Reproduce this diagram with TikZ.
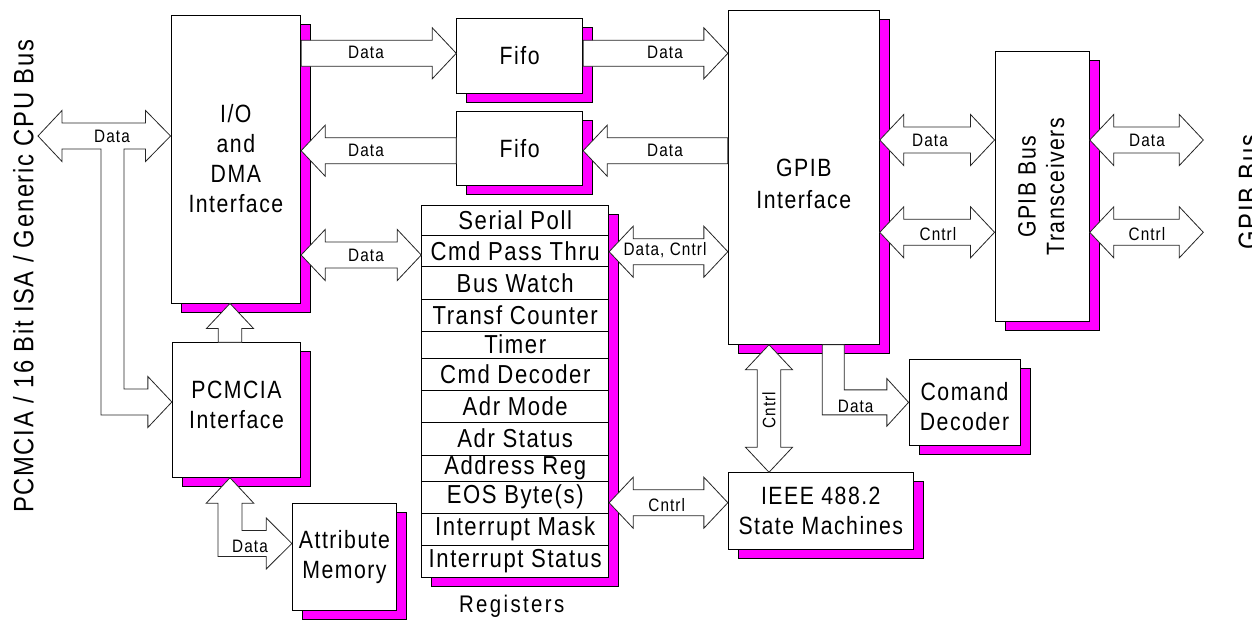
\documentclass[tikz,border=0pt]{standalone}
\usepackage{fontspec}
\setmainfont{Liberation Sans}[FakeStretch=0.85,LetterSpace=6]
\usetikzlibrary{shadows,calc}
\definecolor{shmag}{RGB}{255,0,255}
\newcommand\HL{24}
\newcommand\HW{25.5}
\newcommand\SW{13}
\newcommand\VL{25}
\newcommand\VW{23.5}
\newcommand\VS{11.8}
% text block shifted vertically inside its box, keeping the reported size
\newcommand\shtxt[2]{\raisebox{#1}[\height][\depth]{\begin{tabular}{@{}c@{}}#2\end{tabular}}}
% horizontal double-headed block arrow from #1 (left tip) to #2 (right tip)
\newcommand\hdbl[2]{\draw[fat] let \p1=(#1),\p2=(#2) in
  (\p1) -- (\x1+\HL,\y1+\HW) -- (\x1+\HL,\y1+\SW) -- (\x2-\HL,\y1+\SW) -- (\x2-\HL,\y1+\HW)
  -- (\x2,\y1) -- (\x2-\HL,\y1-\HW) -- (\x2-\HL,\y1-\SW) -- (\x1+\HL,\y1-\SW) -- (\x1+\HL,\y1-\HW) -- cycle;}
% head at the right end
\newcommand\hright[2]{\draw[fat] let \p1=(#1),\p2=(#2) in
  (\x1,\y1+\SW) -- (\x2-\HL,\y1+\SW) -- (\x2-\HL,\y1+\HW) -- (\x2,\y1)
  -- (\x2-\HL,\y1-\HW) -- (\x2-\HL,\y1-\SW) -- (\x1,\y1-\SW) -- cycle;}
% head at the left end
\newcommand\hleft[2]{\draw[fat] let \p1=(#1),\p2=(#2) in
  (\p1) -- (\x1+\HL,\y1+\HW) -- (\x1+\HL,\y1+\SW) -- (\x2,\y1+\SW)
  -- (\x2,\y1-\SW) -- (\x1+\HL,\y1-\SW) -- (\x1+\HL,\y1-\HW) -- cycle;}
% vertical double-headed, #1 top tip, #2 bottom tip
\newcommand\vdbl[2]{\draw[fat] let \p1=(#1),\p2=(#2) in
  (\p1) -- (\x1+\VW,\y1-\VL) -- (\x1+\VS,\y1-\VL) -- (\x1+\VS,\y2+\VL) -- (\x1+\VW,\y2+\VL)
  -- (\x1,\y2) -- (\x1-\VW,\y2+\VL) -- (\x1-\VS,\y2+\VL) -- (\x1-\VS,\y1-\VL) -- (\x1-\VW,\y1-\VL) -- cycle;}
% vertical, head at the top (#1), tail at #2
\newcommand\vup[2]{\draw[fat] let \p1=(#1),\p2=(#2) in
  (\p1) -- (\x1+\VW,\y1-\VL) -- (\x1+\VS,\y1-\VL) -- (\x1+\VS,\y2)
  -- (\x1-\VS,\y2) -- (\x1-\VS,\y1-\VL) -- (\x1-\VW,\y1-\VL) -- cycle;}
\begin{document}
\begin{tikzpicture}[x=1pt,y=-1pt,
  box/.style={draw=black,fill=white,line width=0.9pt,inner sep=0pt,align=center,
    font=\fontsize{25}{30}\selectfont,
    drop shadow={shadow xshift=10pt,shadow yshift=-9pt,fill=shmag,draw=black,line width=0.5pt,opacity=1}},
  fat/.style={draw=black!85,line width=0.8pt,fill=white,line join=miter},
  lbl/.style={inner sep=0pt,font=\fontsize{18}{20}\selectfont},
  regtxt/.style={inner sep=0pt,font=\fontsize{26}{28}\selectfont},
  buslbl/.style={inner sep=0pt,font=\fontsize{28}{30}\selectfont}]
\path[fill=white] (0,0) rectangle (1252,621);
\useasboundingbox (0,0) rectangle (1252,621);

% ---------- boxes ----------
\node[box,minimum width=129.7pt,minimum height=288pt] (io) at (235.85,159) {I/O\\and\\DMA\\Interface};
\node[box,minimum width=128.4pt,minimum height=134.6pt] (pcmcia) at (236.5,410) {\shtxt{3pt}{PCMCIA\\Interface}};
\node[box,minimum width=104.4pt,minimum height=107.4pt] (attr) at (344.5,557) {Attribute\\Memory};
\node[box,minimum width=126pt,minimum height=75pt] (fifo1) at (519.7,55.8) {Fifo};
\node[box,minimum width=126pt,minimum height=73.3pt] (fifo2) at (519.7,148.35) {Fifo};
\node[box,minimum width=187pt,minimum height=371.6pt] (regs) at (515.2,391.5) {};
\node[box,minimum width=151pt,minimum height=334.3pt,font=\fontsize{25}{32.5}\selectfont] (gpib) at (803.8,177.15) {\shtxt{-9pt}{GPIB\\Interface}};
\node[box,minimum width=94.3pt,minimum height=270pt] (trans) at (1042.15,186.7)
  {\rotatebox{90}{\fontsize{25}{28.4}\selectfont\raisebox{-2pt}[\height][\depth]{\begin{tabular}{@{}c@{}}GPIB Bus\\Transceivers\end{tabular}}}};
\node[box,minimum width=111pt,minimum height=86.7pt] (cmd) at (964.5,402.35) {\shtxt{-7pt}{Comand\\Decoder}};
\node[box,minimum width=185pt,minimum height=76.6pt] (ieee) at (820.8,511) {IEEE 488.2\\State Machines};

% ---------- register rows ----------
\foreach \ya/\yb/\rtxt [count=\i] in {205.7/235/Serial Poll,235/266.7/Cmd Pass Thru,266.7/299/Bus Watch,
  299/331/Transf Counter,331/358.3/Timer,358.3/390/Cmd Decoder,390/422.3/Adr Mode,422.3/455/Adr Status,
  455/481/Address Reg,481/513.3/EOS Byte(s),513.3/545/Interrupt Mask,545/577.3/Interrupt Status}{
  \node[regtxt] (r\i) at (515.2,{(\ya+\yb)/2}) {\rtxt};
}
\foreach \yb in {235,266.7,299,331,358.3,390,422.3,455,481,513.3,545}{
  \draw[line width=0.9pt] (regs.west |- 0,\yb) -- (regs.east |- 0,\yb);
}
\node[inner sep=0pt,font=\fontsize{24}{26}\selectfont\addfontfeature{LetterSpace=10}] (reglbl) at (511.7,606.7) {Registers};

% ---------- block arrows ----------
\coordinate (busL) at (38,136);
\draw[fat] let \p1=(busL), \p2=(io.west |- busL), \p3=(pcmcia.west |- 0,402) in
  (\p1) -- (\x1+24,\y1+25.5) -- (\x1+24,\y1+13) -- (\x2-25,\y1+13) -- (\x2-25,\y1+25.5) -- (\p2)
  -- (\x2-25,\y1-25.5) -- (\x2-25,\y1-13)
  -- (\x1+86,\y1-13) -- (\x1+86,\y3+13) -- (\x3-24,\y3+13) -- (\x3-24,\y3+25.5) -- (\p3)
  -- (\x3-24,\y3-25.5) -- (\x3-24,\y3-13) -- (\x1+63,\y3-13) -- (\x1+63,\y1-13)
  -- (\x1+24,\y1-13) -- (\x1+24,\y1-25.5) -- cycle;

\coordinate (ac) at (230,0);
\vup{ac |- io.south}{ac |- pcmcia.north}
\draw[fat] let \p1=(ac |- pcmcia.south), \p2=(attr.west |- 0,543.5) in
  (\p1) -- (\x1+23.8,\y1-25.5) -- (\x1+12,\y1-25.5) -- (\x1+12,\y2+13) -- (\x2-25.6,\y2+13)
  -- (\x2-25.6,\y2+25.5) -- (\p2) -- (\x2-25.6,\y2-25.5) -- (\x2-25.6,\y2-13)
  -- (\x1-12,\y2-13) -- (\x1-12,\y1-25.5) -- (\x1-23.8,\y1-25.5) -- cycle;

\hright{io.east |- 0,53.3}{fifo1.west |- 0,53.3}
\hright{fifo1.east |- 0,53.3}{gpib.west |- 0,53.3}
\hleft{io.east |- 0,150.7}{fifo2.west |- 0,150.7}
\hleft{fifo2.east |- 0,150.7}{gpib.west |- 0,150.7}
\hdbl{io.east |- 0,255}{regs.west |- 0,255}
\hdbl{regs.east |- 0,251.7}{gpib.west |- 0,251.7}
\hdbl{regs.east |- 0,502.7}{ieee.west |- 0,502.7}
\hdbl{gpib.east |- 0,140}{trans.west |- 0,140}
\hdbl{gpib.east |- 0,232.3}{trans.west |- 0,232.3}
\coordinate (busR1) at (1203.3,140);
\coordinate (busR2) at (1203.3,232.3);
\hdbl{trans.east |- busR1}{busR1}
\hdbl{trans.east |- busR2}{busR2}

\coordinate (vc) at (769,0);
\vdbl{vc |- gpib.south}{vc |- ieee.north}

\coordinate (dc) at (833.3,0);
\draw[fat] let \p1=(dc |- gpib.south), \p2=(cmd.west) in
  (\x1-11,\y1) -- (\x1+11,\y1) -- (\x1+11,\y2+12.5) -- (\x2-21.7,\y2+12.5) -- (\x2-21.7,\y2+23.8)
  -- (\p2) -- (\x2-21.7,\y2-23.8) -- (\x2-21.7,\y2-12.5) -- (\x1-11,\y2-12.5) -- cycle;

% ---------- arrow labels ----------
\node[lbl] (t1) at (112,136) {Data};
\node[lbl] (t2) at (366,52.7) {Data};
\node[lbl] (t3) at (665,52.7) {Data};
\node[lbl] (t4) at (366,150) {Data};
\node[lbl] (t5) at (665,150) {Data};
\node[lbl] (t6) at (366,255) {Data};
\node[lbl] (t7) at (665,250.5) {Data, Cntrl};
\node[lbl] (t8) at (666.7,505) {Cntrl};
\node[lbl] (t9) at (930,140) {Data};
\node[lbl] (t10) at (938,234.5) {Cntrl};
\node[lbl] (t11) at (1147,140) {Data};
\node[lbl] (t12) at (1147,234.5) {Cntrl};
\node[lbl,rotate=90] (t13) at (769,410) {Cntrl};
\node[lbl] (t14) at (855.7,406) {Data};
\node[lbl] (t15) at (250,546.7) {Data};

% ---------- bus labels ----------
\node[buslbl,rotate=90,anchor=base] (cpubus) at (33.3,276.5) {PCMCIA / 16 Bit ISA / Generic CPU Bus};
\node[buslbl,rotate=90,anchor=base] (gpibbus) at (1258,192) {GPIB Bus};
\end{tikzpicture}
\end{document}
